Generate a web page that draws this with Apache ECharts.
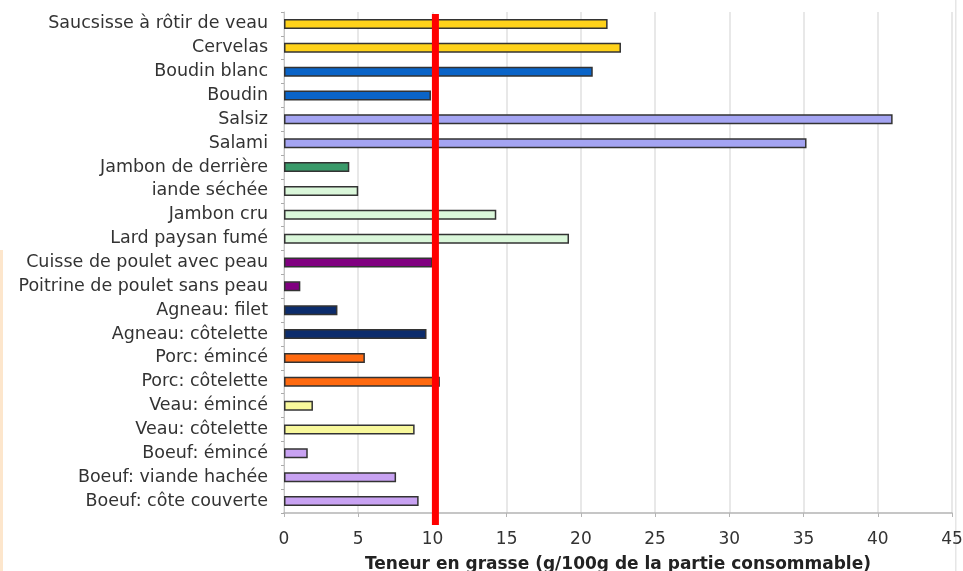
<!DOCTYPE html>
<html>
<head>
<meta charset="utf-8">
<script src="https://cdn.jsdelivr.net/npm/echarts@6/dist/echarts.min.js"></script>
<style>html,body{margin:0;padding:0;background:#fff;overflow:hidden}#c{width:963px;height:571px}</style>
</head>
<body>
<div id="c"></div>
<script>
const categories = ["Saucsisse à rôtir de veau","Cervelas","Boudin blanc","Boudin","Salsiz","Salami","Jambon de derrière","iande séchée","Jambon cru","Lard paysan fumé","Cuisse de poulet avec peau","Poitrine de poulet sans peau","Agneau: filet","Agneau: côtelette","Porc: émincé","Porc: côtelette","Veau: émincé","Veau: côtelette","Boeuf: émincé","Boeuf: viande hachée","Boeuf: côte couverte"];
const values = [21.8,22.7,20.8,9.9,41.0,35.2,4.4,5.0,14.3,19.2,10.0,1.1,3.6,9.6,5.45,10.5,1.95,8.8,1.6,7.55,9.07];
const barColors = ["#FFD21A","#FFD21A","#0A64C8","#0A64C8","#A4A4F2","#A4A4F2","#3A9A6A","#DAF7DA","#DAF7DA","#DAF7DA","#800080","#800080","#0C2C6C","#0C2C6C","#FF6A10","#FF6A10","#F8F89C","#F8F89C","#C8A2F2","#C8A2F2","#C8A2F2"];
const xTicks = [0,5,10,15,20,25,30,35,40,45];
const limitValue = 10.2;
const xName = "Teneur en grasse (g/100g de la partie consommable)";

const chart = echarts.init(document.getElementById('c'), null, {renderer:'canvas'});
const font = "DejaVu Sans";
chart.setOption({
  animation:false,
  backgroundColor:'#fff',
  graphic:[
    {type:'rect', left:0, top:250, shape:{width:3, height:321}, style:{fill:'#fde6cc'}, silent:true},
    {type:'rect', left:955, top:0, shape:{width:1.5, height:571}, style:{fill:'#e6e6e6'}, silent:true}
  ],
  grid:[
    {left:284, right:11, top:12, bottom:58, containLabel:false, outerBoundsMode:'none'},
    {left:284, right:11, top:14, bottom:46, containLabel:false, outerBoundsMode:'none'}
  ],
  xAxis:[
    {type:'value', gridIndex:0, min:xTicks[0], max:xTicks[xTicks.length-1], interval:5,
     axisLine:{show:true, lineStyle:{color:'#b4b4b4', width:1.5}},
     axisTick:{show:true, length:4, lineStyle:{color:'#b4b4b4'}},
     axisLabel:{fontFamily:font, fontSize:17, color:'#333', margin:18},
     splitLine:{show:true, lineStyle:{color:'#e0e0e0', width:1.5}},
     name:xName, nameLocation:'middle', nameGap:43,
     nameTextStyle:{fontFamily:font, fontSize:17, fontWeight:'bold', color:'#222'}},
    {type:'value', gridIndex:1, min:xTicks[0], max:xTicks[xTicks.length-1], show:false}
  ],
  yAxis:[
    {type:'category', gridIndex:0, data:categories, inverse:true,
     axisLine:{show:true, lineStyle:{color:'#c4c4c4', width:1}},
     axisTick:{show:true, length:3, lineStyle:{color:'#aaa'}},
     axisLabel:{fontFamily:font, fontSize:17.5, color:'#333', margin:16, interval:0, hideOverlap:false},
     splitLine:{show:false}},
    {type:'value', gridIndex:1, min:0, max:1, show:false}
  ],
  series:[
    {type:'bar', xAxisIndex:0, yAxisIndex:0, barWidth:10,
     data: values.map((v,i)=>({value:v, itemStyle:{color:barColors[i]}})),
     itemStyle:{borderColor:'#333', borderWidth:1.5}},
    {type:'line', xAxisIndex:1, yAxisIndex:1, symbol:'none',
     data:[[limitValue,0],[limitValue,1]],
     lineStyle:{color:'#ff0000', width:7}}
  ]
});
</script>
</body>
</html>
